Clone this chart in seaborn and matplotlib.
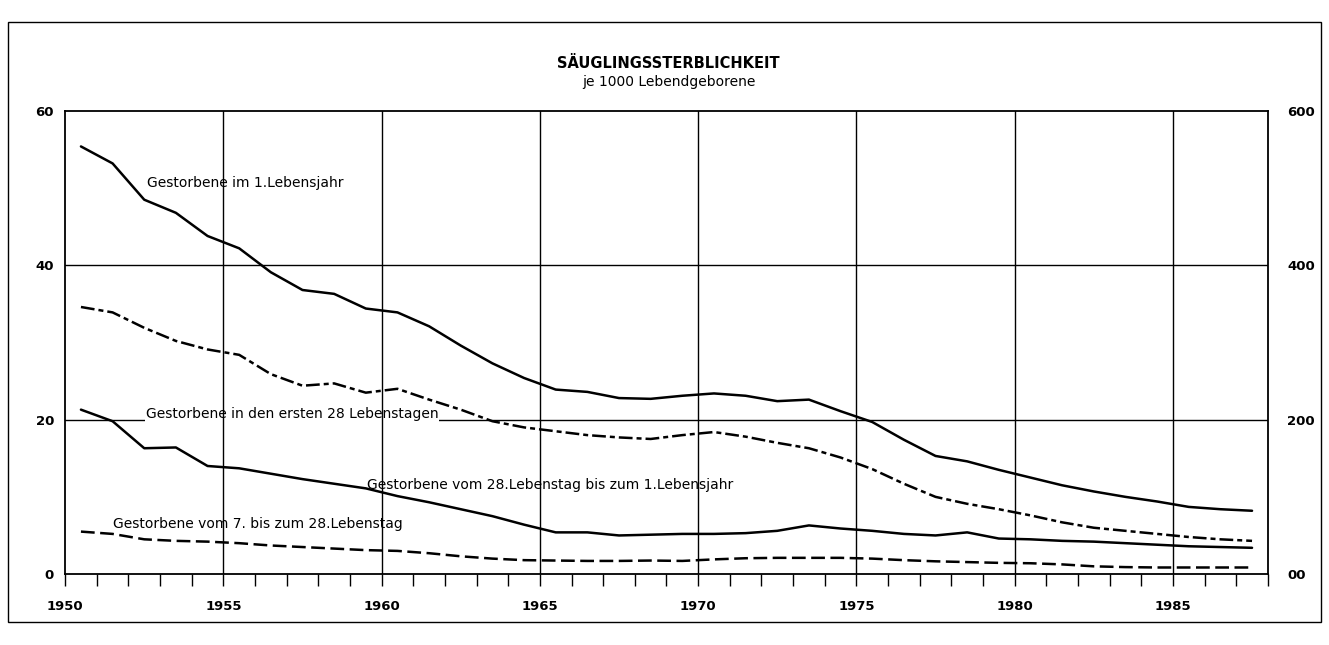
import numpy as np
import pandas as pd
import matplotlib
matplotlib.use("Agg")
import matplotlib.pyplot as plt
from matplotlib.ticker import MultipleLocator, FixedLocator, FixedFormatter
import seaborn as sns

# ---------------- data ----------------
years = list(range(1950, 1988))
im_1_lebensjahr = [55.4, 53.2, 48.5, 46.8, 43.8, 42.2, 39.1, 36.8, 36.3, 34.4,
                   33.9, 32.1, 29.6, 27.3, 25.4, 23.9, 23.6, 22.8, 22.7, 23.1,
                   23.4, 23.1, 22.4, 22.6, 21.1, 19.7, 17.4, 15.3, 14.6, 13.5,
                   12.5, 11.5, 10.7, 10.0, 9.4, 8.7, 8.4, 8.2]
ersten_28_tage = [34.6, 33.9, 31.9, 30.2, 29.1, 28.4, 25.9, 24.4, 24.7, 23.5,
                  24.0, 22.6, 21.3, 19.8, 19.0, 18.5, 18.0, 17.7, 17.5, 18.0,
                  18.4, 17.8, 17.0, 16.3, 15.1, 13.6, 11.7, 10.0, 9.1, 8.4,
                  7.6, 6.7, 6.0, 5.6, 5.2, 4.8, 4.5, 4.3]
tag28_bis_jahr1 = [21.3, 19.8, 16.3, 16.4, 14.0, 13.7, 13.0, 12.3, 11.7, 11.1,
                   10.1, 9.3, 8.4, 7.5, 6.4, 5.4, 5.4, 5.0, 5.1, 5.2,
                   5.2, 5.3, 5.6, 6.3, 5.9, 5.6, 5.2, 5.0, 5.4, 4.6,
                   4.5, 4.3, 4.2, 4.0, 3.8, 3.6, 3.5, 3.4]
tag7_bis_28 = [5.5, 5.2, 4.5, 4.3, 4.2, 4.0, 3.7, 3.5, 3.3, 3.1,
               3.0, 2.7, 2.3, 2.0, 1.8, 1.75, 1.7, 1.7, 1.75, 1.7,
               1.9, 2.05, 2.1, 2.1, 2.1, 2.0, 1.8, 1.65, 1.55, 1.45,
               1.4, 1.25, 1.0, 0.9, 0.85, 0.85, 0.85, 0.85]

series_labels = ["Gestorbene im 1.Lebensjahr",
                 "Gestorbene in den ersten 28 Lebenstagen",
                 "Gestorbene vom 28.Lebenstag bis zum 1.Lebensjahr",
                 "Gestorbene vom 7. bis zum 28.Lebenstag"]
label_pos = [(1952.6, 50.6), (1952.55, 20.7), (1959.55, 11.6), (1951.5, 6.5)]

left_ticks = [0, 20, 40, 60]
right_ticks = [0, 200, 400, 600]
right_ticklabels = ["00", "200", "400", "600"]
x_major = [1950, 1955, 1960, 1965, 1970, 1975, 1980, 1985]

title = "SÄUGLINGSSTERBLICHKEIT"
subtitle = "je 1000 Lebendgeborene"

# ---------------- plot ----------------
sns.set_theme(style="white")
plt.rcParams["font.family"] = ["DejaVu Sans"]
plt.rcParams["text.color"] = "black"
plt.rcParams["xtick.color"] = "black"
plt.rcParams["ytick.color"] = "black"
plt.rcParams["axes.labelcolor"] = "black"

fig = plt.figure(figsize=(13.29, 6.45), dpi=100)
ax = fig.add_axes([0.049, 0.110, 0.905, 0.718])

df = pd.DataFrame({
    "x": np.array(years) + 0.5,
    "s1": im_1_lebensjahr, "s2": ersten_28_tage,
    "s3": tag28_bis_jahr1, "s4": tag7_bis_28,
})

lw = 1.8
sns.lineplot(data=df, x="x", y="s1", ax=ax, color="black", lw=lw, zorder=3)
sns.lineplot(data=df, x="x", y="s2", ax=ax, color="black", lw=lw, zorder=3,
             linestyle=(0, (5.5, 1.6, 2, 1.6)))
sns.lineplot(data=df, x="x", y="s3", ax=ax, color="black", lw=lw, zorder=3)
sns.lineplot(data=df, x="x", y="s4", ax=ax, color="black", lw=lw, zorder=3,
             linestyle=(0, (5.5, 2.2)))

ax.set_xlim(1950, 1988)
ax.set_ylim(0, 60)
ax.set_xlabel("")
ax.set_ylabel("")

# grid: horizontal lines below the label boxes, vertical lines above
for v in [20, 40]:
    ax.axhline(v, color="black", lw=1.0, zorder=0.5)
for yr in x_major[1:]:
    ax.axvline(yr, color="black", lw=1.0, zorder=2)

for txt, (xx, yy) in zip(series_labels, label_pos):
    ax.text(xx, yy, txt, fontsize=10, ha="left", va="center", zorder=1,
            color="black",
            bbox=dict(facecolor="white", edgecolor="none", pad=0.5))

ax.xaxis.set_major_locator(FixedLocator(x_major))
ax.xaxis.set_minor_locator(MultipleLocator(1))
ax.tick_params(axis="x", which="both", direction="out", length=8.5,
               width=1.0, color="black", bottom=True, top=False)
ax.tick_params(axis="x", which="major", pad=10, labelsize=9.5,
               labelcolor="black")
ax.set_yticks(left_ticks)
ax.tick_params(axis="y", which="both", length=0, pad=8, labelsize=9.5,
               labelcolor="black")
for lab in ax.get_xticklabels() + ax.get_yticklabels():
    lab.set_fontweight("bold")

for sp in ax.spines.values():
    sp.set_visible(True)
    sp.set_color("black")
    sp.set_linewidth(1.3)

ax2 = ax.twinx()
ax2.set_ylim(0, 600)
ax2.yaxis.set_major_locator(FixedLocator(right_ticks))
ax2.yaxis.set_major_formatter(FixedFormatter(right_ticklabels))
ax2.tick_params(axis="y", length=0, pad=14, labelsize=9.5, labelcolor="black")
for lab in ax2.get_yticklabels():
    lab.set_fontweight("bold")
for sp in ax2.spines.values():
    sp.set_visible(False)

fig.text(0.503, 0.902, title, ha="center", va="center", fontsize=10.5,
         fontweight="bold", color="black")
fig.text(0.503, 0.873, subtitle, ha="center", va="center", fontsize=10,
         color="black")

# outer frame
fig.add_artist(plt.Rectangle((0.006, 0.036), 0.988, 0.930, transform=fig.transFigure,
                             fill=False, edgecolor="black", lw=1.0))

fig.savefig("out.png", dpi=100, facecolor="white")
